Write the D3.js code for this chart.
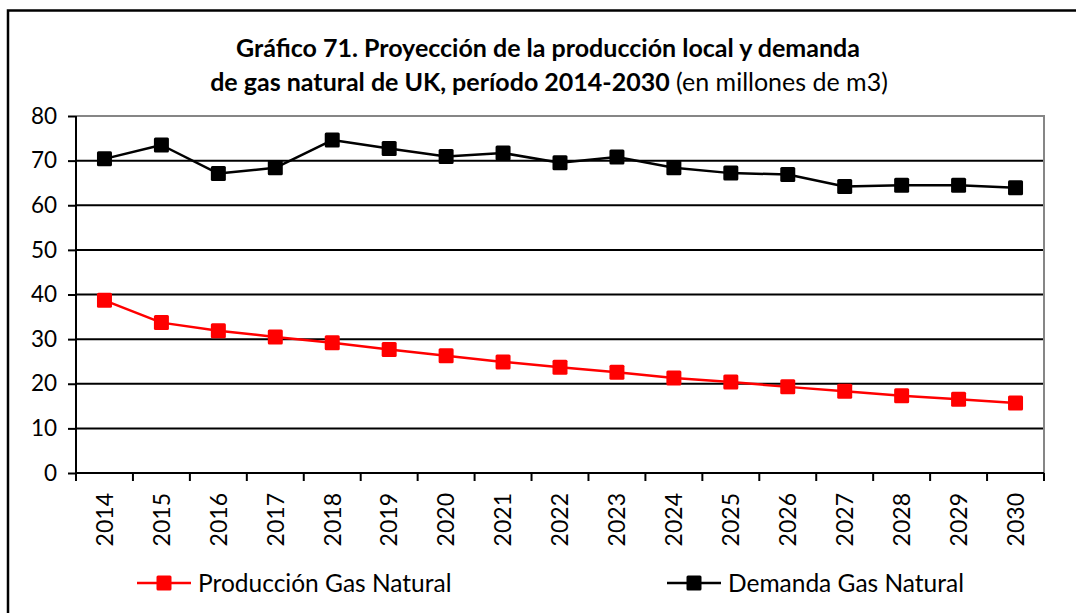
<!DOCTYPE html>
<html>
<head>
<meta charset="utf-8">
<script src="https://cdn.jsdelivr.net/npm/d3@7"></script>
<style>
  html, body { margin: 0; padding: 0; background: #fff; }
  svg { display: block; font-family: Lato, "Open Sans", sans-serif; }
</style>
</head>
<body>
<svg id="chart" width="1076" height="613"></svg>
<script>
// Years on the category axis
const years = ["2014","2015","2016","2017","2018","2019","2020","2021","2022",
               "2023","2024","2025","2026","2027","2028","2029","2030"];
// Local natural gas production (millions of m3)
const produccion = [38.7, 33.7, 31.9, 30.5, 29.2, 27.7, 26.3, 24.9, 23.7,
                    22.6, 21.3, 20.4, 19.3, 18.3, 17.3, 16.5, 15.7];
// Natural gas demand (millions of m3)
const demanda = [70.4, 73.5, 67.1, 68.4, 74.6, 72.7, 70.9, 71.7, 69.5,
                 70.8, 68.4, 67.2, 66.9, 64.2, 64.5, 64.5, 63.9];
const yTicks = [0, 10, 20, 30, 40, 50, 60, 70, 80];

const series = [
  { name: "Producción Gas Natural", values: produccion, color: "#ff0000" },
  { name: "Demanda Gas Natural",    values: demanda,    color: "#000000" }
];

const svg = d3.select("#chart");
const W = 1076, H = 613;
const plot = { left: 76, right: 1044, top: 116, bottom: 473 };

// Outer frame (runs off the right and bottom edges)
svg.append("rect")
  .attr("x", 8).attr("y", 10.5)
  .attr("width", W + 20).attr("height", H + 20)
  .attr("fill", "none").attr("stroke", "#000").attr("stroke-width", 2.5);

// Title
const title = svg.append("text")
  .attr("text-anchor", "middle")
  .attr("font-size", 25)
  .attr("fill", "#000");
title.append("tspan")
  .attr("x", 548).attr("y", 57)
  .attr("font-weight", "bold")
  .text("Gráfico 71. Proyección de la producción local y demanda");
const l2 = title.append("tspan").attr("x", 549).attr("y", 91);
l2.append("tspan").attr("font-weight", "bold").text("de gas natural de UK, período 2014-2030");
l2.append("tspan").attr("font-weight", "normal").text(" (en millones de m3)");

const x = d3.scaleBand().domain(years).range([plot.left, plot.right]);
const y = d3.scaleLinear().domain([0, 80]).range([plot.bottom, plot.top]);

// Horizontal gridlines
svg.append("g")
  .selectAll("line")
  .data(yTicks.filter(t => t > 0 && t < 80))
  .join("line")
  .attr("x1", plot.left).attr("x2", plot.right)
  .attr("y1", d => y(d)).attr("y2", d => y(d))
  .attr("stroke", "#000").attr("stroke-width", 2);

// Plot-area top and right edges in grey
svg.append("path")
  .attr("d", `M${plot.left},${y(80)}H${plot.right}V${plot.bottom}`)
  .attr("fill", "none").attr("stroke", "#868686").attr("stroke-width", 2);

// Y axis
const yAxis = svg.append("g")
  .attr("transform", `translate(${plot.left},0)`)
  .call(d3.axisLeft(y).tickValues(yTicks).tickSize(8).tickPadding(11).tickSizeOuter(0));
yAxis.select(".domain").remove();
yAxis.selectAll(".tick line").attr("stroke", "#000").attr("stroke-width", 2);
yAxis.selectAll(".tick text")
  .attr("font-size", 22.5).attr("fill", "#000")
  .attr("font-family", "Lato, 'Open Sans', sans-serif");
yAxis.append("line")
  .attr("x1", 0).attr("x2", 0)
  .attr("y1", y(80)).attr("y2", plot.bottom + 8)
  .attr("stroke", "#000").attr("stroke-width", 2);

// X axis: ticks at category boundaries, labels rotated
const xg = svg.append("g");
xg.append("line")
  .attr("x1", plot.left).attr("x2", plot.right)
  .attr("y1", plot.bottom).attr("y2", plot.bottom)
  .attr("stroke", "#000").attr("stroke-width", 2);
const bounds = years.map(d => x(d)).concat([x(years[years.length - 1]) + x.bandwidth()]);
xg.selectAll("line.tk")
  .data(bounds)
  .join("line")
  .attr("class", "tk")
  .attr("x1", d => d).attr("x2", d => d)
  .attr("y1", plot.bottom).attr("y2", plot.bottom + 8)
  .attr("stroke", "#000").attr("stroke-width", 2);
xg.selectAll("text")
  .data(years)
  .join("text")
  .attr("transform", d => `translate(${x(d) + x.bandwidth() / 2},${plot.bottom + 20}) rotate(-90)`)
  .attr("text-anchor", "end")
  .attr("dy", "0.36em")
  .attr("font-size", 23)
  .attr("fill", "#000")
  .text(d => d);

// Series lines and square markers
const line = d3.line()
  .x((d, i) => x(years[i]) + x.bandwidth() / 2)
  .y(d => y(d));
const M = 15;
series.forEach(s => {
  const g = svg.append("g");
  g.append("path")
    .attr("d", line(s.values))
    .attr("fill", "none")
    .attr("stroke", s.color)
    .attr("stroke-width", 2.5)
    .attr("stroke-linejoin", "round");
  g.selectAll("rect")
    .data(s.values)
    .join("rect")
    .attr("x", (d, i) => x(years[i]) + x.bandwidth() / 2 - M / 2)
    .attr("y", d => y(d) - M / 2)
    .attr("width", M).attr("height", M)
    .attr("rx", 1.5)
    .attr("fill", s.color);
});

// Legend
const legendX = [137, 667];
const legendY = 583;
series.forEach((s, i) => {
  const g = svg.append("g").attr("transform", `translate(${legendX[i]},${legendY})`);
  g.append("line")
    .attr("x1", 0).attr("x2", 54).attr("y1", 0).attr("y2", 0)
    .attr("stroke", s.color).attr("stroke-width", 2.5);
  g.append("rect")
    .attr("x", 27 - M / 2).attr("y", -M / 2)
    .attr("width", M).attr("height", M).attr("rx", 1.5)
    .attr("fill", s.color);
  g.append("text")
    .attr("x", 61).attr("y", 9)
    .attr("font-size", 24.5).attr("fill", "#000")
    .text(s.name);
});
</script>
</body>
</html>
